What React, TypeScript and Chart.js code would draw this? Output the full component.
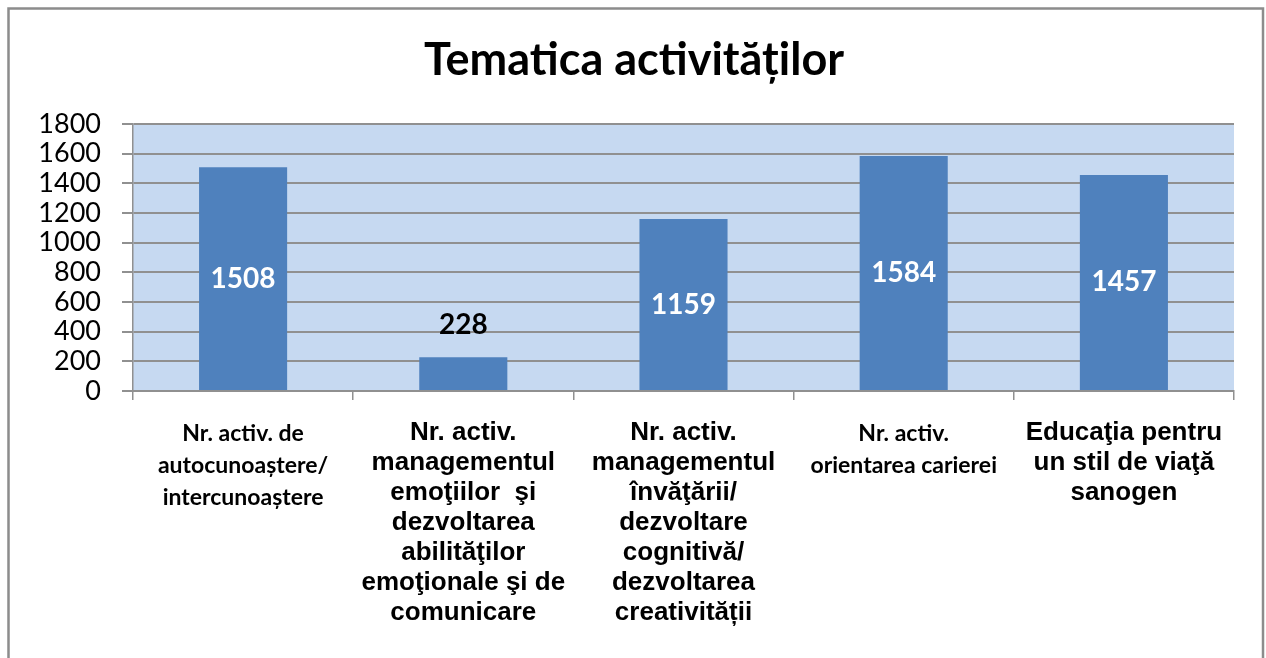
import React, { useEffect, useRef } from "react";
import { Chart, registerables } from "chart.js";

Chart.register(...registerables);

const chartTitle = "Tematica activităților";
const categories: string[][] = [
  ["Nr. activ. de", "autocunoaștere/", "intercunoaștere"],
  ["Nr. activ.", "managementul", "emoţiilor  şi", "dezvoltarea", "abilităţilor", "emoţionale şi de", "comunicare"],
  ["Nr. activ.", "managementul", "învăţării/", "dezvoltare", "cognitivă/", "dezvoltarea", "creativității"],
  ["Nr. activ.", "orientarea carierei"],
  ["Educaţia pentru", "un stil de viaţă", "sanogen"],
];
const values: number[] = [1508, 228, 1159, 1584, 1457];
const yTicks: number[] = [0, 200, 400, 600, 800, 1000, 1200, 1400, 1600, 1800];
const calibriLike: number[] = [0, 3];

const GRID = "#909090";

export default function App() {
  const ref = useRef<HTMLCanvasElement | null>(null);

  useEffect(() => {
    if (!ref.current) return;

    const decor = {
      id: "decor",
      beforeDraw(chart: any) {
        const { ctx, chartArea } = chart;
        ctx.save();
        ctx.fillStyle = "#ffffff";
        ctx.fillRect(0, 0, chart.width, chart.height);
        ctx.fillStyle = "#C6D9F1";
        ctx.fillRect(chartArea.left, chartArea.top, chartArea.right - chartArea.left, chartArea.bottom - chartArea.top);
        ctx.strokeStyle = "#8C8C8C";
        ctx.lineWidth = 2.5;
        ctx.strokeRect(8.5, 8.5, 1254.5, 900);
        ctx.fillStyle = "#000";
        ctx.font = "bold 45px Lato";
        ctx.textAlign = "center";
        ctx.textBaseline = "alphabetic";
        ctx.fillText(chartTitle, 634, 75);
        ctx.restore();
      },
      afterDatasetsDraw(chart: any) {
        const { ctx } = chart;
        const meta = chart.getDatasetMeta(0);
        ctx.save();
        ctx.font = "bold 28px Lato";
        ctx.textAlign = "center";
        ctx.textBaseline = "middle";
        meta.data.forEach((bar: any, i: number) => {
          const v = values[i];
          const h = bar.base - bar.y;
          if (h > 80) {
            ctx.fillStyle = "#ffffff";
            ctx.fillText(String(v), bar.x, (bar.y + bar.base) / 2);
          } else {
            ctx.fillStyle = "#000000";
            ctx.fillText(String(v), bar.x, bar.y - 32);
          }
        });
        ctx.restore();
      },
    };

    const chart = new Chart(ref.current, {
      type: "bar",
      data: {
        labels: categories,
        datasets: [
          {
            data: values,
            backgroundColor: "#4F81BD",
            barPercentage: 0.4,
            categoryPercentage: 1.0,
          },
        ],
      },
      options: {
        responsive: false,
        animation: false,
        layout: { padding: { left: 0, top: 124, right: 32, bottom: 0 } },
        plugins: {
          legend: { display: false },
          title: { display: false },
          tooltip: { enabled: false },
        },
        scales: {
          x: {
            afterFit(scale: any) {
              scale.height = 267;
            },
            grid: {
              display: true,
              drawOnChartArea: false,
              drawTicks: true,
              tickLength: 9,
              offset: true,
              color: GRID,
              lineWidth: 1.5,
            },
            border: { display: true, color: GRID, width: 2 },
            ticks: {
              autoSkip: false,
              maxRotation: 0,
              minRotation: 0,
              padding: 18,
              color: "#000",
              font: (ctx: any) =>
                calibriLike.includes(ctx.index)
                  ? { family: "Lato", size: 23, weight: "bold", lineHeight: "32px" }
                  : { family: "Liberation Sans", size: 26, weight: "bold", lineHeight: "30px" },
            },
          },
          y: {
            min: 0,
            max: 1800,
            afterFit(scale: any) {
              scale.width = 133;
            },
            afterBuildTicks(scale: any) {
              scale.ticks = yTicks.map((v) => ({ value: v }));
            },
            grid: {
              color: GRID,
              lineWidth: 2,
              tickLength: 11,
              drawTicks: true,
            },
            border: { display: true, color: GRID, width: 1.5 },
            ticks: {
              autoSkip: false,
              padding: 21,
              color: "#000",
              font: { family: "Lato", size: 27 },
              callback: (v: any) => String(v),
            },
          },
        },
      },
      plugins: [decor],
    } as any);

    return () => chart.destroy();
  }, []);

  return (
    <div style={{ position: "absolute", left: 0, top: 0, width: 1266, height: 658 }}>
      <canvas ref={ref} width={1266} height={658} style={{ display: "block", width: 1266, height: 658 }} />
    </div>
  );
}
